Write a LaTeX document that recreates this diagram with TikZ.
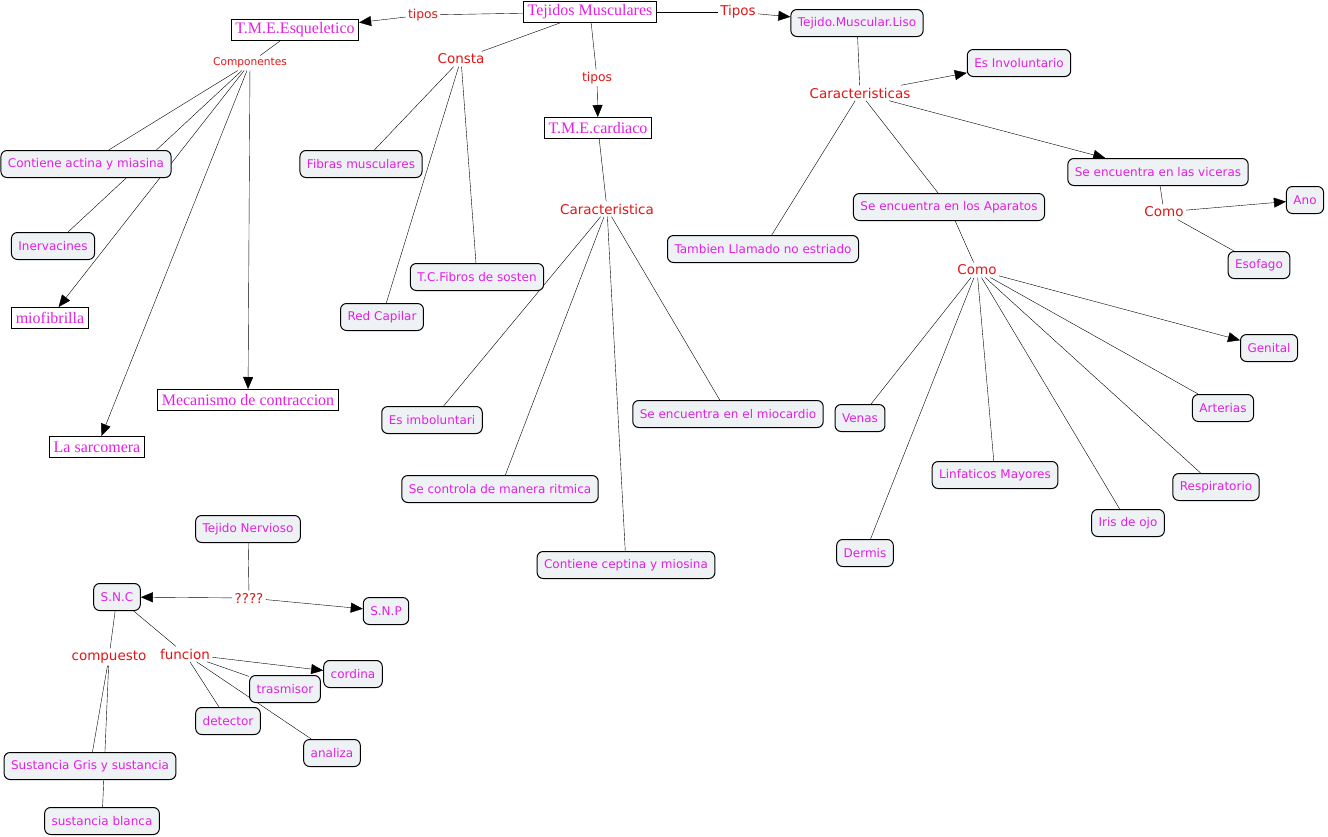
\documentclass[tikz,border=0pt]{standalone}
\usepackage{fontspec}
\setmainfont{DejaVu Sans}
\newfontfamily\serifface{Liberation Serif}
\usetikzlibrary{arrows.meta,backgrounds}
\definecolor{mag}{RGB}{226,32,226}
\definecolor{lbl}{RGB}{226,22,22}
\definecolor{boxfill}{RGB}{238,242,245}
\begin{document}
\begin{tikzpicture}[x=1pt,y=-1pt,line width=1pt,
  cbox/.style={draw=black,fill=boxfill,rounded corners=6pt,text=mag,
    font=\fontsize{12}{14}\selectfont,inner xsep=7pt,inner ysep=0pt,
    minimum height=27pt,line width=1pt},
  rbox/.style={draw=black,fill=white,text=mag,
    font=\serifface\fontsize{16}{18}\selectfont,inner xsep=4pt,inner ysep=0pt,
    minimum height=21pt,line width=1pt},
  lab/.style={text=lbl,font=\fontsize{13.5}{16}\selectfont,inner sep=2pt},
  slab/.style={lab,font=\fontsize{12.3}{15}\selectfont},
  xslab/.style={lab,font=\fontsize{10.6}{13}\selectfont},
  arr/.style={-{Triangle[length=12pt,width=10pt]}}]
\useasboundingbox (0,0) rectangle (1328,836);
% top
\node[rbox] (tm) at (590,12) {Tejidos Musculares};
\node[rbox] (tme) at (295,30) {T.M.E.Esqueletico};
\node[slab] (tip1) at (423,15) {tipos};
\node[lab] (Tip) at (738,12) {Tipos};
\node[cbox] (tml) at (857,23) {Tejido.Muscular.Liso};
\node[lab] (consta) at (461,59) {Consta};
\node[slab] (tip2) at (597,78) {tipos};
\node[rbox] (tmc) at (598,128) {T.M.E.cardiaco};
% esqueletico
\node[xslab] (comp) at (250,63) {Componentes};
\node[cbox] (actina) at (86,164) {Contiene actina y miasina};
\node[cbox] (inerv) at (53,246) {Inervacines};
\node[rbox] (mio) at (50,318) {miofibrilla};
\node[rbox] (sarc) at (97,447) {La sarcomera};
\node[rbox] (meca) at (248,400) {Mecanismo de contraccion};
% consta
\node[cbox] (fibras) at (361,164) {Fibras musculares};
\node[cbox] (tcf) at (477,277) {T.C.Fibros de sosten};
\node[cbox] (red) at (382,317) {Red Capilar};
% cardiaco
\node[lab] (carac1) at (607,209) {Caracteristica};
\node[cbox] (imbo) at (432,420) {Es imboluntari};
\node[cbox] (mioc) at (728,414) {Se encuentra en el miocardio};
\node[cbox] (ritm) at (500,489) {Se controla de manera ritmica};
\node[cbox] (cept) at (626,565) {Contiene ceptina y miosina};
% liso
\node[lab] (carac2) at (860,93) {Caracteristicas};
\node[cbox] (invol) at (1019,63) {Es Involuntario};
\node[cbox] (vice) at (1158,172) {Se encuentra en las viceras};
\node[cbox] (apar) at (949,207) {Se encuentra en los Aparatos};
\node[cbox] (tamb) at (763,249) {Tambien Llamado no estriado};
\node[lab] (como1) at (1164,212) {Como};
\node[cbox] (ano) at (1305,200) {Ano};
\node[cbox] (esof) at (1259,265) {Esofago};
\node[lab] (como2) at (977,270) {Como};
\node[cbox] (geni) at (1269,348) {Genital};
\node[cbox] (arte) at (1223,408) {Arterias};
\node[cbox] (venas) at (860,418) {Venas};
\node[cbox] (linf) at (995,475) {Linfaticos Mayores};
\node[cbox] (resp) at (1216,487) {Respiratorio};
\node[cbox] (iris) at (1128,523) {Iris de ojo};
\node[cbox] (derm) at (865,553) {Dermis};
% nervioso
\node[cbox] (tn) at (248,529) {Tejido Nervioso};
\node[lab] (q) at (249,598) {????};
\node[cbox] (snc) at (117,597) {S.N.C};
\node[cbox] (snp) at (386,611) {S.N.P};
\node[lab] (compu) at (109,657) {compuesto};
\node[lab] (func) at (185,654) {funcion};
\node[cbox] (cord) at (353,674) {cordina};
\node[cbox] (tras) at (285,689) {trasmisor};
\node[cbox] (dete) at (228,721) {detector};
\node[cbox] (anal) at (332,753) {analiza};
\node[cbox] (gris) at (90,766) {Sustancia Gris y sustancia};
\node[cbox] (blan) at (102,821) {sustancia blanca};
\begin{scope}[on background layer]
\fill[white] (0,0) rectangle (1328,836);
\draw (tm) -- (tip1); \draw[arr] (tip1) -- (tme);
\draw (tm) -- (Tip); \draw[arr] (Tip) -- (tml);
\draw (tm) -- (consta);
\draw (tm) -- (tip2); \draw[arr] (tip2) -- (tmc);
\draw (tme) -- (comp);
\draw (comp) -- (actina);
\draw (comp) -- (inerv);
\draw[arr] (comp) -- (mio);
\draw[arr] (comp) -- (sarc);
\draw[arr] (comp) -- (meca);
\draw (consta) -- (fibras);
\draw (consta) -- (red);
\draw (consta) -- (tcf);
\draw (tmc) -- (carac1);
\draw (carac1) -- (imbo);
\draw (carac1) -- (ritm);
\draw (carac1) -- (cept);
\draw (carac1) -- (mioc);
\draw (tml) -- (carac2);
\draw[arr] (carac2) -- (invol);
\draw[arr] (carac2) -- (vice);
\draw (carac2) -- (apar);
\draw (carac2) -- (tamb);
\draw (vice) -- (como1);
\draw[arr] (como1) -- (ano);
\draw (como1) -- (esof);
\draw (apar) -- (como2);
\draw[arr] (como2) -- (geni);
\draw (como2) -- (arte);
\draw (como2) -- (resp);
\draw (como2) -- (iris);
\draw (como2) -- (linf);
\draw (como2) -- (derm);
\draw (como2) -- (venas);
\draw (tn) -- (q);
\draw[arr] (q) -- (snc);
\draw[arr] (q) -- (snp);
\draw (snc) -- (compu);
\draw (snc) -- (func);
\draw (compu) -- (gris);
\draw (compu) -- (blan);
\draw[arr] (func) -- (cord);
\draw (func) -- (tras);
\draw (func) -- (dete);
\draw (func) -- (anal);
\end{scope}
\end{tikzpicture}
\end{document}
